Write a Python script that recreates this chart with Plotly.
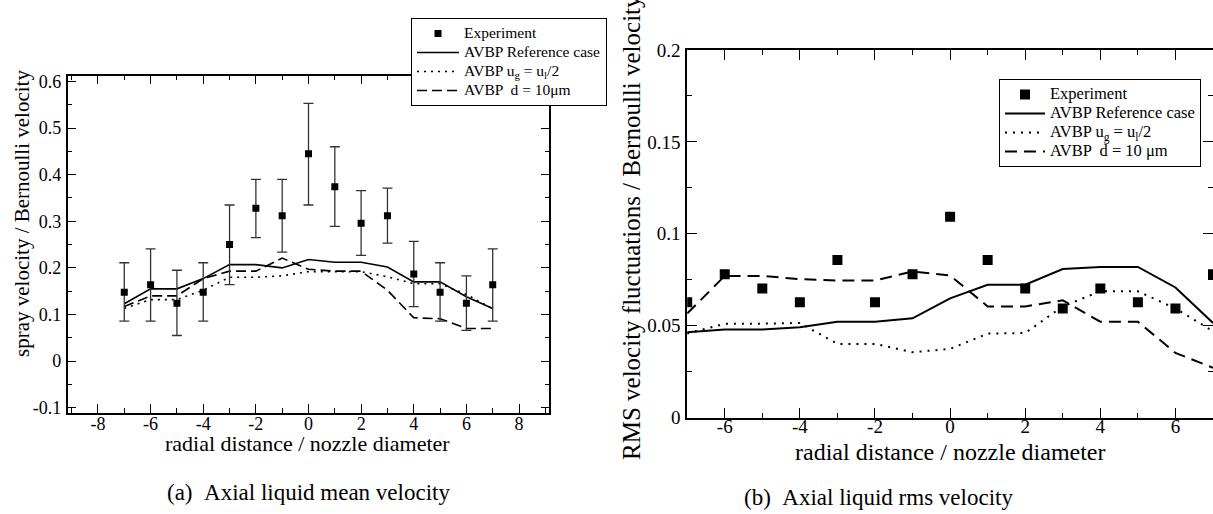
import plotly.graph_objects as go

W, H = 1213, 514
FONT = "Liberation Serif, Times New Roman, serif"

# ---------------- data: (a) axial liquid mean velocity ----------------
r_pos = [-7, -6, -5, -4, -3, -2, -1, 0, 1, 2, 3, 4, 5, 6, 7]
mean_exp = [0.148, 0.164, 0.124, 0.148, 0.250, 0.328, 0.312, 0.445, 0.374, 0.296, 0.312, 0.187, 0.148, 0.124, 0.164]
mean_err_up = [0.063, 0.077, 0.071, 0.063, 0.085, 0.062, 0.078, 0.108, 0.086, 0.070, 0.059, 0.070, 0.063, 0.059, 0.077]
mean_err_dn = [0.062, 0.078, 0.069, 0.062, 0.086, 0.063, 0.078, 0.110, 0.085, 0.069, 0.059, 0.070, 0.062, 0.058, 0.078]
mean_ref = [0.123, 0.155, 0.155, 0.177, 0.207, 0.207, 0.200, 0.218, 0.212, 0.212, 0.202, 0.170, 0.170, 0.138, 0.113]
mean_half = [0.113, 0.132, 0.132, 0.152, 0.180, 0.180, 0.183, 0.192, 0.192, 0.192, 0.181, 0.166, 0.166, 0.143, 0.112]
mean_d10 = [0.117, 0.140, 0.140, 0.177, 0.193, 0.193, 0.221, 0.197, 0.193, 0.193, 0.152, 0.093, 0.091, 0.070, 0.070]

# ---------------- data: (b) axial liquid rms velocity ----------------
rms_exp = [0.0627, 0.078, 0.0703, 0.0627, 0.0858, 0.0627, 0.078, 0.1093, 0.0858, 0.0703, 0.0594, 0.0703, 0.0627, 0.0594, 0.078]
rms_ref = [0.0464, 0.0479, 0.0479, 0.0491, 0.0522, 0.0522, 0.054, 0.0649, 0.0723, 0.0723, 0.0808, 0.082, 0.082, 0.0708, 0.0515]
rms_half = [0.0457, 0.0511, 0.0511, 0.0515, 0.0401, 0.0401, 0.0356, 0.0374, 0.0457, 0.046, 0.0605, 0.0687, 0.0687, 0.0594, 0.047]
rms_d10 = [0.0566, 0.0771, 0.0771, 0.0753, 0.0746, 0.0746, 0.0795, 0.0773, 0.0605, 0.0605, 0.0638, 0.0522, 0.0522, 0.0352, 0.0271]

# tick labels
a_xticks = [-8, -6, -4, -2, 0, 2, 4, 6, 8]
a_xlabels = ["-8", "-6", "-4", "-2", "0", "2", "4", "6", "8"]
a_yticks = [-0.1, 0, 0.1, 0.2, 0.3, 0.4, 0.5, 0.6]
a_ylabels = ["-0.1", "0", "0.1", "0.2", "0.3", "0.4", "0.5", "0.6"]
b_xticks = [-6, -4, -2, 0, 2, 4, 6]
b_xlabels = ["-6", "-4", "-2", "0", "2", "4", "6"]
b_yticks = [0, 0.05, 0.1, 0.15, 0.2]
b_ylabels = ["0", "0.05", "0.1", "0.15", "0.2"]

names_a = ["Experiment", "AVBP Reference case", "AVBP u<sub>g</sub> = u<sub>l</sub>/2", "AVBP  d = 10\u03bcm"]
names_b = ["Experiment", "AVBP Reference case", "AVBP u<sub>g</sub> = u<sub>l</sub>/2", "AVBP  d = 10 \u03bcm"]


def px(x):
    return x / W


def py(y):
    return 1 - y / H


def sized(text, size):
    return '<span style="font-size:%spx">%s</span>' % (size, text)


fig = go.Figure()

# ---- left panel
LA = 15.5
fig.add_trace(go.Scatter(x=r_pos, y=mean_ref, mode="lines", name=sized(names_a[1], LA), legend="legend", legendrank=2,
                         line=dict(color="black", width=1.6), xaxis="x", yaxis="y"))
fig.add_trace(go.Scatter(x=r_pos, y=mean_half, mode="lines", name=sized(names_a[2], LA), legend="legend", legendrank=3,
                         line=dict(color="black", width=1.6, dash="2px,5px"), xaxis="x", yaxis="y"))
fig.add_trace(go.Scatter(x=r_pos, y=mean_d10, mode="lines", name=sized(names_a[3], LA), legend="legend", legendrank=4,
                         line=dict(color="black", width=1.6, dash="10px,5px"), xaxis="x", yaxis="y"))
fig.add_trace(go.Scatter(x=r_pos, y=mean_exp, mode="markers", name=sized(names_a[0], LA), legend="legend", legendrank=1,
                         marker=dict(symbol="square", size=7, color="black"),
                         error_y=dict(type="data", symmetric=False, array=mean_err_up, arrayminus=mean_err_dn,
                                      color="#333333", thickness=1.3, width=5),
                         xaxis="x", yaxis="y"))

# ---- right panel
LB = 16.5
fig.add_trace(go.Scatter(x=r_pos, y=rms_ref, mode="lines", name=sized(names_b[1], LB), legend="legend2", legendrank=2,
                         line=dict(color="black", width=2), xaxis="x2", yaxis="y2"))
fig.add_trace(go.Scatter(x=r_pos, y=rms_half, mode="lines", name=sized(names_b[2], LB), legend="legend2", legendrank=3,
                         line=dict(color="black", width=2, dash="2px,6px"), xaxis="x2", yaxis="y2"))
fig.add_trace(go.Scatter(x=r_pos, y=rms_d10, mode="lines", name=sized(names_b[3], LB), legend="legend2", legendrank=4,
                         line=dict(color="black", width=2, dash="12px,7px"), xaxis="x2", yaxis="y2"))
fig.add_trace(go.Scatter(x=r_pos, y=rms_exp, mode="markers", name=sized(names_b[0], LB), legend="legend2", legendrank=1,
                         marker=dict(symbol="square", size=10, color="black"), xaxis="x2", yaxis="y2"))


def axis_common(lw, tl, fs, standoff=0):
    return dict(showline=True, linecolor="black", linewidth=lw, mirror="ticks", ticks="inside",
                ticklen=tl, tickwidth=1, tickcolor="black", showgrid=False, zeroline=False,
                automargin=False, ticklabelstandoff=standoff,
                tickfont=dict(family=FONT, size=fs, color="black"))


fig.update_layout(
    width=W, height=H, margin=dict(l=0, r=0, t=0, b=0, pad=0, autoexpand=False),
    paper_bgcolor="white", plot_bgcolor="white",
    font=dict(family=FONT, color="black"),
    xaxis=dict(domain=[px(67.7), px(549.3)], range=[-9.15, 9.15], tickmode="array",
               tickvals=a_xticks, ticktext=a_xlabels, anchor="y",
               minor=dict(dtick=1, tick0=0, ticks="inside", ticklen=5, tickcolor="black"),
               **axis_common(1.5, 9, 18, -6)),
    yaxis=dict(domain=[py(412.7), py(75.7)], range=[-0.1107, 0.6124], tickmode="array",
               tickvals=a_yticks, ticktext=a_ylabels, anchor="x",
               minor=dict(dtick=0.05, tick0=0, ticks="inside", ticklen=5, tickcolor="black"),
               **axis_common(1.5, 9, 18, 1)),
    xaxis2=dict(domain=[px(687.2), 1.0], range=[-7, 7], tickmode="array",
                tickvals=b_xticks, ticktext=b_xlabels, anchor="y2",
                minor=dict(dtick=1, tick0=0, ticks="inside", ticklen=5, tickcolor="black"),
                **axis_common(2, 10, 19, -9)),
    yaxis2=dict(domain=[py(417.6), py(50)], range=[0, 0.2], tickmode="array",
                tickvals=b_yticks, ticktext=b_ylabels, anchor="x2",
                minor=dict(dtick=0.025, tick0=0, ticks="inside", ticklen=5, tickcolor="black"),
                **axis_common(2, 10, 19, 1)),
    legend=dict(x=px(411), y=py(18), xanchor="left", yanchor="top", xref="paper", yref="paper",
                bgcolor="white", bordercolor="black", borderwidth=1, itemwidth=42,
                font=dict(family=FONT, size=12, color="black"), tracegroupgap=0),
    legend2=dict(x=px(999), y=py(79), xanchor="left", yanchor="top", xref="paper", yref="paper",
                 bgcolor="white", bordercolor="black", borderwidth=1, itemwidth=40,
                 font=dict(family=FONT, size=12, color="black"), tracegroupgap=0),
    showlegend=True,
)

annos = [
    dict(text="spray velocity / Bernoulli velocity", x=px(22), y=py(214), textangle=-90, size=21),
    dict(text="radial distance / nozzle diameter", x=px(307.7), y=py(443), textangle=0, size=22),
    dict(text="RMS velocity fluctuations / Bernoulli velocity", x=px(631), y=py(228), textangle=-90, size=25),
    dict(text="radial distance / nozzle diameter", x=px(950), y=py(452), textangle=0, size=24),
    dict(text="(a)\u00a0\u00a0Axial liquid mean velocity", x=px(308), y=py(492), textangle=0, size=23),
    dict(text="(b)\u00a0\u00a0Axial liquid rms velocity", x=px(878), y=py(497), textangle=0, size=23),
]
for a in annos:
    fig.add_annotation(text=a["text"], x=a["x"], y=a["y"], xref="paper", yref="paper",
                       xanchor="center", yanchor="middle", showarrow=False, textangle=a["textangle"],
                       font=dict(family=FONT, size=a["size"], color="black"))

fig.write_html("out.html")
